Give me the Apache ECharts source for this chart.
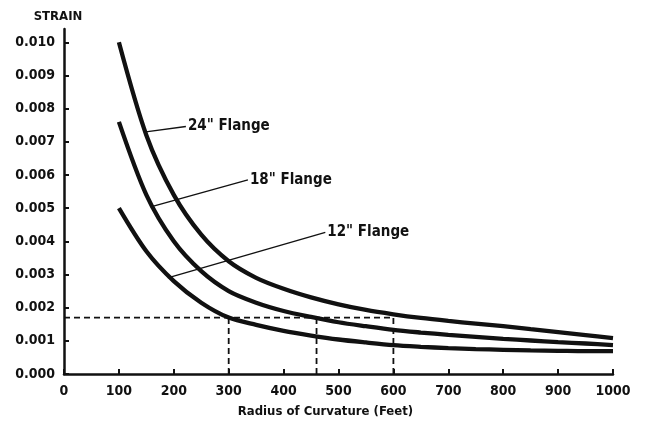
<!DOCTYPE html>
<html>
<head>
<meta charset="utf-8">
<script src="https://cdn.jsdelivr.net/npm/echarts@6/dist/echarts.min.js"></script>
<style>
  html, body { margin: 0; padding: 0; background: #fff; }
  #chart { width: 646px; height: 423px; }
</style>
</head>
<body>
<div id="chart"></div>
<script>
// 曲率半径 (ft)，每 50 一个点
const radius = [100, 150, 200, 250, 300, 350, 400, 450, 500, 550, 600, 650, 700, 750, 800, 850, 900, 950, 1000];
// 应变，读自原图
const strain24 = [0.0100, 0.0072, 0.0054, 0.0042, 0.0034, 0.0029, 0.00257, 0.00231, 0.0021, 0.00193,
  0.00180, 0.00169, 0.0016, 0.00152, 0.00144, 0.00135, 0.00126, 0.00117, 0.00108];
const strain18 = [0.0076, 0.0054, 0.0040, 0.0031, 0.0025, 0.00215, 0.0019, 0.00172, 0.00156, 0.00144,
  0.00133, 0.00125, 0.00118, 0.00112, 0.00106, 0.00101, 0.00096, 0.00092, 0.00087];
const strain12 = [0.0050, 0.0037, 0.0028, 0.00215, 0.0017, 0.00148, 0.0013, 0.00116, 0.00104, 0.00095,
  0.00087, 0.00082, 0.00078, 0.00075, 0.00073, 0.00071, 0.0007, 0.00069, 0.00069];

// 标注引线：起点在曲线上，终点接文字
const leader24 = [[149, 0.0073], [222, 0.00746]];
const leader18 = [[158, 0.00504], [335, 0.00585]];
const leader12 = [[189, 0.0029], [476, 0.00427]];
const flangeNames = ['24" Flange', '18" Flange', '12" Flange'];

// 参考虚线
const refStrain = 0.0017;
const refRadii = [300, 460, 600];

const yTicks = [0, 0.001, 0.002, 0.003, 0.004, 0.005, 0.006, 0.007, 0.008, 0.009, 0.010];
const xTicks = [0, 100, 200, 300, 400, 500, 600, 700, 800, 900, 1000];

const chart = echarts.init(document.getElementById('chart'), null, { renderer: 'canvas' });

const font = '"DejaVu Sans Condensed", "DejaVu Sans", sans-serif';
const ink = '#111';

const curve = (name, values) => ({
  name, type: 'line', data: radius.map((r, i) => [r, values[i]]), smooth: 0.3, symbol: 'none',
  lineStyle: { color: ink, width: 4.3, cap: 'butt' }, z: 3, silent: true
});

const leader = (name, data) => ({
  name, type: 'line', data, symbol: 'none',
  lineStyle: { color: ink, width: 1.4 }, silent: true, z: 2,
  endLabel: {
    show: true, formatter: name, distance: 2,
    color: ink, fontFamily: font, fontWeight: 'bold', fontSize: 15
  }
});

const dashed = (data) => ({
  type: 'line', data, symbol: 'none', silent: true, z: 1,
  lineStyle: { color: ink, width: 1.8, type: [6, 4] }
});

const series = [
  curve('24', strain24),
  curve('18', strain18),
  curve('12', strain12),
  leader(flangeNames[0], leader24),
  leader(flangeNames[1], leader18),
  leader(flangeNames[2], leader12),
  dashed([[0, refStrain], [refRadii[refRadii.length - 1], refStrain]])
];
refRadii.forEach(r => series.push(dashed([[r, 0], [r, refStrain]])));

const option = {
  backgroundColor: '#fff',
  animation: false,
  grid: { left: 64, right: 33, top: 29, bottom: 48 },
  xAxis: {
    type: 'value', min: 0, max: 1000, interval: 100,
    name: 'Radius of Curvature (Feet)', nameLocation: 'middle', nameGap: 31,
    nameTextStyle: { color: ink, fontFamily: font, fontWeight: 'bold', fontSize: 13, padding: [0, 26, 0, 0] },
    axisLine: { lineStyle: { color: ink, width: 2.5 } },
    axisTick: { inside: true, length: 5, lineStyle: { color: ink, width: 2 } },
    axisLabel: {
      color: ink, fontFamily: font, fontWeight: 'bold', fontSize: 14, margin: 10,
      customValues: xTicks, formatter: v => String(v)
    },
    splitLine: { show: false }
  },
  yAxis: {
    type: 'value', min: 0, max: 0.0104,
    name: 'STRAIN', nameLocation: 'end', nameGap: 6,
    nameTextStyle: { color: ink, fontFamily: font, fontWeight: 'bold', fontSize: 13, padding: [0, 12, 0, 0] },
    axisLine: { lineStyle: { color: ink, width: 2.5 } },
    axisTick: { inside: true, length: 5, lineStyle: { color: ink, width: 2 }, customValues: yTicks },
    axisLabel: {
      color: ink, fontFamily: font, fontWeight: 'bold', fontSize: 14, margin: 9,
      customValues: yTicks, formatter: v => v.toFixed(3)
    },
    splitLine: { show: false }
  },
  series
};

chart.setOption(option);
</script>
</body>
</html>
